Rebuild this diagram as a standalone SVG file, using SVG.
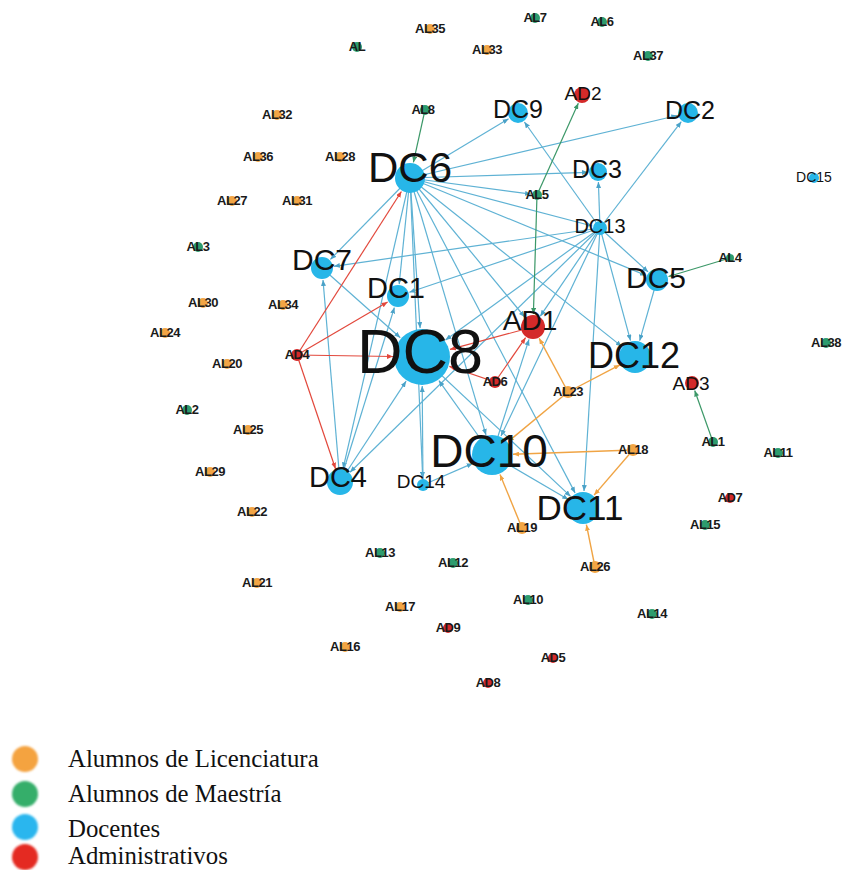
<svg xmlns="http://www.w3.org/2000/svg" width="845" height="870" viewBox="0 0 845 870">
  <defs>
    <style>
      .eb { stroke: #5fb2d4; stroke-width: 1.2; fill: none; marker-end: url(#ab); }
      .er { stroke: #e2483c; stroke-width: 1.2; fill: none; marker-end: url(#ar); }
      .eg { stroke: #3c9868; stroke-width: 1.2; fill: none; marker-end: url(#ag); }
      .eo { stroke: #f0a444; stroke-width: 1.4; fill: none; marker-end: url(#ao); }
      .dc { fill: #27b6e8; }
      .ad { fill: #d42a2a; }
      .al { fill: #f2a545; }
      .am { fill: #2d9c6e; }
      .lb { font-family: "Liberation Sans", Arial, sans-serif; text-anchor: middle; fill: #111; }
      .sm { font-family: "Liberation Sans", Arial, sans-serif; font-weight: bold; font-size: 13px; text-anchor: middle; fill: #1a1a1a; letter-spacing: -0.5px; }
      .lg { font-family: "Liberation Serif", "Times New Roman", serif; font-size: 24.8px; fill: #111; }
    </style>
    <marker id="ab" viewBox="0 0 6 5" refX="6" refY="2.5" markerWidth="6" markerHeight="5" markerUnits="userSpaceOnUse" orient="auto"><path d="M0,0 L6,2.5 L0,5 z" fill="#4aa2c8"/></marker>
    <marker id="ar" viewBox="0 0 6 5" refX="6" refY="2.5" markerWidth="6" markerHeight="5" markerUnits="userSpaceOnUse" orient="auto"><path d="M0,0 L6,2.5 L0,5 z" fill="#e2483c"/></marker>
    <marker id="ag" viewBox="0 0 6 5" refX="6" refY="2.5" markerWidth="6" markerHeight="5" markerUnits="userSpaceOnUse" orient="auto"><path d="M0,0 L6,2.5 L0,5 z" fill="#3c9868"/></marker>
    <marker id="ao" viewBox="0 0 6 5" refX="6" refY="2.5" markerWidth="6" markerHeight="5" markerUnits="userSpaceOnUse" orient="auto"><path d="M0,0 L6,2.5 L0,5 z" fill="#f0a444"/></marker>
    <filter id="soft" x="-30%" y="-30%" width="160%" height="160%"><feGaussianBlur stdDeviation="1.2"/></filter>
  </defs>

  <rect width="845" height="870" fill="#fff"/>

  <!-- connectors -->
  <g id="edges">
    <!-- from DC6 -->
    <line class="eb" x1="410" y1="178" x2="508.6" y2="118.7"/>
    <line class="eb" x1="410" y1="178" x2="677.3" y2="115.5"/>
    <line class="eb" x1="410" y1="178" x2="588" y2="172.3"/>
    <line class="eb" x1="410" y1="178" x2="531.1" y2="194.2"/>
    <line class="eb" x1="410" y1="178" x2="592.3" y2="226"/>
    <line class="eb" x1="410" y1="178" x2="330.4" y2="259.4"/>
    <line class="eb" x1="410" y1="178" x2="399.2" y2="284.1"/>
    <line class="eb" x1="410" y1="178" x2="420.1" y2="328.1"/>
    <line class="eb" x1="410" y1="178" x2="343.1" y2="468.4"/>
    <line class="eb" x1="410" y1="178" x2="422.7" y2="478"/>
    <line class="eb" x1="410" y1="178" x2="486" y2="434.9"/>
    <line class="eb" x1="410" y1="178" x2="524.7" y2="317"/>
    <line class="eb" x1="410" y1="178" x2="621.7" y2="346.4"/>
    <line class="eb" x1="410" y1="178" x2="575.1" y2="492.9"/>
    <line class="eb" x1="410" y1="178" x2="645.9" y2="275.4"/>
    <!-- from DC13 -->
    <line class="eb" x1="600" y1="228" x2="598.4" y2="182"/>
    <line class="eb" x1="600" y1="228" x2="681.3" y2="121.7"/>
    <line class="eb" x1="600" y1="228" x2="524.4" y2="122"/>
    <line class="eb" x1="600" y1="228" x2="648.1" y2="271.9"/>
    <line class="eb" x1="600" y1="228" x2="630.5" y2="340.6"/>
    <line class="eb" x1="600" y1="228" x2="584" y2="491"/>
    <line class="eb" x1="600" y1="228" x2="501" y2="436"/>
    <line class="eb" x1="600" y1="228" x2="540.3" y2="316.2"/>
    <line class="eb" x1="600" y1="228" x2="445.5" y2="340"/>
    <line class="eb" x1="600" y1="228" x2="333.9" y2="266.3"/>
    <line class="eb" x1="600" y1="228" x2="409.4" y2="292.2"/>
    <line class="eb" x1="600" y1="228" x2="350" y2="472.2"/>
    <!-- other docentes links -->
    <line class="eb" x1="657" y1="280" x2="639.7" y2="340.7"/>
    <line class="eb" x1="492" y1="455" x2="438.9" y2="380.6"/>
    <line class="eb" x1="492" y1="455" x2="529" y2="339.4"/>
    <line class="eb" x1="423" y1="485" x2="422.2" y2="386"/>
    <line class="eb" x1="423" y1="485" x2="472.7" y2="463.4"/>
    <line class="eb" x1="322" y1="268" x2="400.3" y2="337.7"/>
    <line class="eb" x1="492" y1="455" x2="568.3" y2="499.4"/>
    <line class="eb" x1="340" y1="482" x2="406.1" y2="381.2"/>
    <line class="eb" x1="340" y1="482" x2="394.4" y2="307.5"/>
    <line class="eb" x1="340" y1="482" x2="323" y2="280"/>
    <line class="eb" x1="422" y1="357" x2="570.6" y2="496.4"/>
    <!-- administrativos -->
    <line class="er" x1="297" y1="355" x2="401.4" y2="191.5"/>
    <line class="er" x1="297" y1="355" x2="387.6" y2="302.1"/>
    <line class="er" x1="297" y1="355" x2="393" y2="356.5"/>
    <line class="er" x1="297" y1="355" x2="335.5" y2="468.7"/>
    <line class="er" x1="533" y1="327" x2="450" y2="349.4"/>
    <line class="er" x1="495" y1="382" x2="525.6" y2="337.7"/>
    <line class="er" x1="495" y1="382" x2="449.4" y2="366.4"/>
    <!-- alumnos de maestría -->
    <line class="eg" x1="425" y1="110" x2="413.4" y2="162.4"/>
    <line class="eg" x1="537" y1="195" x2="578.3" y2="103.2"/>
    <line class="eg" x1="537" y1="195" x2="533.4" y2="314"/>
    <line class="eg" x1="713" y1="442" x2="694.7" y2="390.5"/>
    <line class="eg" x1="730" y1="258" x2="668.5" y2="276.5"/>
    <!-- alumnos de licenciatura -->
    <line class="eo" x1="568" y1="392" x2="539.2" y2="338.4"/>
    <line class="eo" x1="568" y1="392" x2="619.9" y2="364.9"/>
    <line class="eo" x1="568" y1="392" x2="508.2" y2="441.6"/>
    <line class="eo" x1="633" y1="450" x2="513" y2="454.3"/>
    <line class="eo" x1="633" y1="450" x2="594.1" y2="495.1"/>
    <line class="eo" x1="522" y1="528" x2="500" y2="474.4"/>
    <line class="eo" x1="595" y1="567" x2="586.4" y2="524.7"/>
  </g>

  <!-- docentes -->
  <g id="DC8"><circle class="dc" cx="422" cy="357" r="28"/><text class="lb" x="420" y="373" font-size="63">DC8</text></g>
  <g id="DC6"><circle class="dc" cx="410" cy="178" r="15"/><text class="lb" x="410" y="182" font-size="42">DC6</text></g>
  <g id="DC10"><circle class="dc" cx="492" cy="455" r="20"/><text class="lb" x="489" y="467" font-size="46">DC10</text></g>
  <g id="DC4"><circle class="dc" cx="340" cy="482" r="13"/><text class="lb" x="338" y="487" font-size="29">DC4</text></g>
  <g id="DC14"><circle class="dc" cx="423" cy="485" r="6"/><text class="lb" x="421" y="488" font-size="19">DC14</text></g>
  <g id="DC7"><circle class="dc" cx="322" cy="268" r="11"/><text class="lb" x="322" y="270" font-size="30">DC7</text></g>
  <g id="DC1"><circle class="dc" cx="398" cy="296" r="11"/><text class="lb" x="396" y="298" font-size="29">DC1</text></g>
  <g id="DC12"><circle class="dc" cx="635" cy="357" r="16"/><text class="lb" x="634" y="368" font-size="36">DC12</text></g>
  <g id="DC5"><circle class="dc" cx="657" cy="280" r="11"/><text class="lb" x="656" y="288" font-size="30">DC5</text></g>
  <g id="DC13"><circle class="dc" cx="600" cy="228" r="7"/><text class="lb" x="600" y="233" font-size="20">DC13</text></g>
  <g id="DC3"><circle class="dc" cx="598" cy="172" r="9"/><text class="lb" x="597" y="178" font-size="25">DC3</text></g>
  <g id="DC9"><circle class="dc" cx="518" cy="113" r="10"/><text class="lb" x="518" y="118" font-size="25">DC9</text></g>
  <g id="DC2"><circle class="dc" cx="688" cy="113" r="10"/><text class="lb" x="690" y="119" font-size="25">DC2</text></g>
  <g id="DC11"><circle class="dc" cx="583" cy="508" r="16"/><text class="lb" x="580" y="520" font-size="35">DC11</text></g>
  <g id="DC15"><circle class="dc" cx="814" cy="178" r="5"/><text class="lb" x="814" y="182" font-size="14">DC15</text></g>

  <!-- administrativos -->
  <g id="AD1"><circle class="ad" cx="533" cy="327" r="12"/><text class="lb" x="530" y="330" font-size="28">AD1</text></g>
  <g id="AD2"><circle class="ad" cx="582" cy="95" r="8"/><text class="lb" x="583" y="100" font-size="19">AD2</text></g>
  <g id="AD3"><circle class="ad" cx="692" cy="383" r="7"/><text class="lb" x="691" y="390" font-size="19">AD3</text></g>
  <g id="AD4"><circle class="ad" cx="297" cy="355" r="6"/><text class="sm" x="297" y="359">AD4</text></g>
  <g id="AD6"><circle class="ad" cx="495" cy="382" r="6"/><text class="sm" x="495" y="386">AD6</text></g>
  <g id="AD7"><circle class="ad" cx="730" cy="498" r="5"/><text class="sm" x="730" y="502">AD7</text></g>
  <g id="AD9"><circle class="ad" cx="448" cy="628" r="5"/><text class="sm" x="448" y="632">AD9</text></g>
  <g id="AD5"><circle class="ad" cx="553" cy="658" r="5"/><text class="sm" x="553" y="662">AD5</text></g>
  <g id="AD8"><circle class="ad" cx="488" cy="683" r="5"/><text class="sm" x="488" y="687">AD8</text></g>

  <!-- alumnos de licenciatura -->
  <g id="AL35"><circle class="al" cx="430" cy="29" r="5"/><text class="sm" x="430" y="33">AL35</text></g>
  <g id="AL33"><circle class="al" cx="487" cy="50" r="5"/><text class="sm" x="487" y="54">AL33</text></g>
  <g id="AL32"><circle class="al" cx="277" cy="115" r="5"/><text class="sm" x="277" y="119">AL32</text></g>
  <g id="AL36"><circle class="al" cx="258" cy="157" r="5"/><text class="sm" x="258" y="161">AL36</text></g>
  <g id="AL28"><circle class="al" cx="340" cy="157" r="5"/><text class="sm" x="340" y="161">AL28</text></g>
  <g id="AL27"><circle class="al" cx="232" cy="201" r="5"/><text class="sm" x="232" y="205">AL27</text></g>
  <g id="AL31"><circle class="al" cx="297" cy="201" r="5"/><text class="sm" x="297" y="205">AL31</text></g>
  <g id="AL30"><circle class="al" cx="203" cy="303" r="5"/><text class="sm" x="203" y="307">AL30</text></g>
  <g id="AL34"><circle class="al" cx="283" cy="305" r="5"/><text class="sm" x="283" y="309">AL34</text></g>
  <g id="AL24"><circle class="al" cx="165" cy="333" r="5"/><text class="sm" x="165" y="337">AL24</text></g>
  <g id="AL20"><circle class="al" cx="227" cy="364" r="5"/><text class="sm" x="227" y="368">AL20</text></g>
  <g id="AL25"><circle class="al" cx="248" cy="430" r="5"/><text class="sm" x="248" y="434">AL25</text></g>
  <g id="AL29"><circle class="al" cx="210" cy="472" r="5"/><text class="sm" x="210" y="476">AL29</text></g>
  <g id="AL22"><circle class="al" cx="252" cy="512" r="5"/><text class="sm" x="252" y="516">AL22</text></g>
  <g id="AL21"><circle class="al" cx="257" cy="583" r="5"/><text class="sm" x="257" y="587">AL21</text></g>
  <g id="AL17"><circle class="al" cx="400" cy="607" r="5"/><text class="sm" x="400" y="611">AL17</text></g>
  <g id="AL16"><circle class="al" cx="345" cy="647" r="5"/><text class="sm" x="345" y="651">AL16</text></g>
  <g id="AL23"><circle class="al" cx="568" cy="392" r="6"/><text class="sm" x="568" y="396">AL23</text></g>
  <g id="AL18"><circle class="al" cx="633" cy="450" r="6"/><text class="sm" x="633" y="454">AL18</text></g>
  <g id="AL19"><circle class="al" cx="522" cy="528" r="6"/><text class="sm" x="522" y="532">AL19</text></g>
  <g id="AL26"><circle class="al" cx="595" cy="567" r="6"/><text class="sm" x="595" y="571">AL26</text></g>

  <!-- alumnos de maestría -->
  <g id="AL"><circle class="am" cx="357" cy="47" r="5"/><text class="sm" x="357" y="51">AL</text></g>
  <g id="AL7"><circle class="am" cx="535" cy="18" r="5"/><text class="sm" x="535" y="22">AL7</text></g>
  <g id="AL6"><circle class="am" cx="602" cy="22" r="5"/><text class="sm" x="602" y="26">AL6</text></g>
  <g id="AL37"><circle class="am" cx="648" cy="56" r="5"/><text class="sm" x="648" y="60">AL37</text></g>
  <g id="AL8"><circle class="am" cx="425" cy="110" r="5"/><text class="sm" x="423" y="114">AL8</text></g>
  <g id="AL5"><circle class="am" cx="537" cy="195" r="5"/><text class="sm" x="537" y="199">AL5</text></g>
  <g id="AL3"><circle class="am" cx="198" cy="247" r="5"/><text class="sm" x="198" y="251">AL3</text></g>
  <g id="AL2"><circle class="am" cx="187" cy="410" r="5"/><text class="sm" x="187" y="414">AL2</text></g>
  <g id="AL4"><circle class="am" cx="730" cy="258" r="4"/><text class="sm" x="730" y="262">AL4</text></g>
  <g id="AL38"><circle class="am" cx="826" cy="343" r="5"/><text class="sm" x="826" y="347">AL38</text></g>
  <g id="AL1"><circle class="am" cx="713" cy="442" r="5"/><text class="sm" x="713" y="446">AL1</text></g>
  <g id="AL11"><circle class="am" cx="778" cy="453" r="5"/><text class="sm" x="778" y="457">AL11</text></g>
  <g id="AL15"><circle class="am" cx="705" cy="525" r="5"/><text class="sm" x="705" y="529">AL15</text></g>
  <g id="AL13"><circle class="am" cx="380" cy="553" r="5"/><text class="sm" x="380" y="557">AL13</text></g>
  <g id="AL12"><circle class="am" cx="453" cy="563" r="5"/><text class="sm" x="453" y="567">AL12</text></g>
  <g id="AL10"><circle class="am" cx="528" cy="600" r="5"/><text class="sm" x="528" y="604">AL10</text></g>
  <g id="AL14"><circle class="am" cx="652" cy="614" r="5"/><text class="sm" x="652" y="618">AL14</text></g>

  <!-- legend -->
  <g id="legend">
    <circle cx="25" cy="759" r="13" fill="#f4a340" filter="url(#soft)"/>
    <circle cx="25" cy="794" r="13" fill="#34ae6a" filter="url(#soft)"/>
    <circle cx="25" cy="827" r="13" fill="#2ab6ee" filter="url(#soft)"/>
    <circle cx="25" cy="857" r="13" fill="#e42a20" filter="url(#soft)"/>
    <text class="lg" x="68" y="767">Alumnos de Licenciatura</text>
    <text class="lg" x="68" y="802">Alumnos de Maestría</text>
    <text class="lg" x="68" y="837">Docentes</text>
    <text class="lg" x="68" y="864">Administrativos</text>
  </g>
</svg>
